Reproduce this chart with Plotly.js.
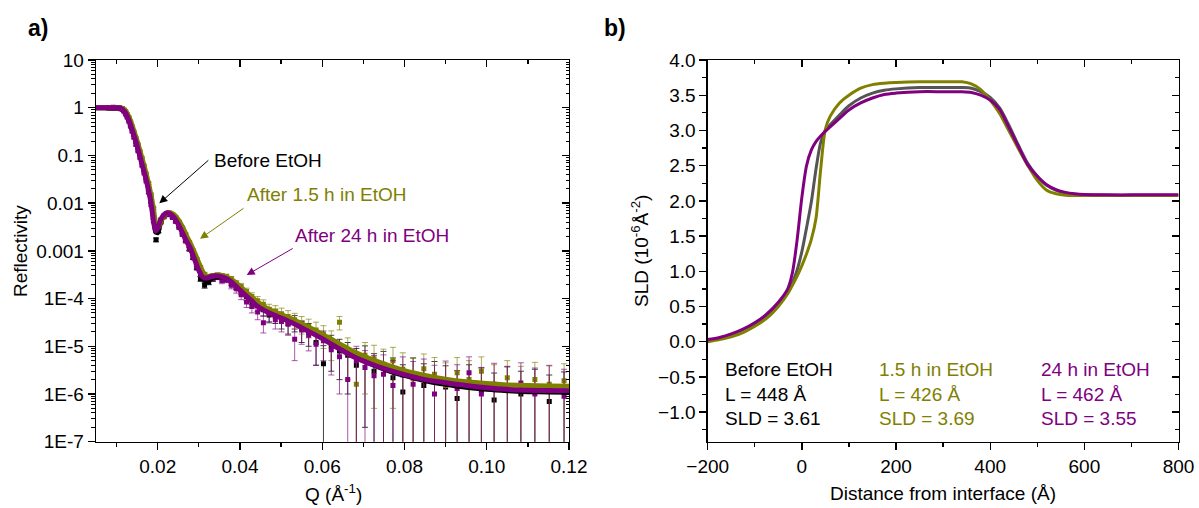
<!DOCTYPE html>
<html><head><meta charset="utf-8">
<script src="https://cdn.plot.ly/plotly-3.0.1.min.js"></script>
<style>html,body{margin:0;padding:0;background:#fff}#chart{width:1199px;height:508px}</style>
</head><body><div id="chart"></div>
<script>
// ---------- Panel a) reflectivity data ----------
const qData = [0.0080,0.0083,0.0086,0.0089,0.0092,0.0095,0.0098,0.0101,0.0104,0.0107,0.0110,0.0114,0.0118,0.0122,0.0126,0.0130,0.0134,0.0138,0.0142,0.0147,0.0152,0.0157,0.0162,0.0167,0.0172,0.0178,0.0184,0.0190,0.0196,0.0202,0.0208,0.0215,0.0222,0.0229,0.0236,0.0244,0.0252,0.0260,0.0268,0.0277,0.0286,0.0295,0.0304,0.0314,0.0324,0.0334,0.0345,0.0356,0.0367,0.0379,0.0391,0.0403,0.0416,0.0429,0.0443,0.0457,0.0471,0.0486,0.0501,0.0517,0.0533,0.0550,0.0567,0.0585,0.0603,0.0622,0.0642,0.0662,0.0683,0.0704,0.0726,0.0749,0.0772,0.0796,0.0821,0.0847,0.0873,0.0900,0.0928,0.0957,0.0987,0.1018,0.1050,0.1083,0.1117,0.1152,0.1188];

const rBefore = [1.00,0.99,1.01,1.00,0.98,1.01,0.99,1.00,0.98,0.98,0.96,0.94,0.87,0.78,0.67,0.57,0.46,0.36,0.28,0.20,0.15,0.105,0.074,0.050,0.034,0.020,0.011,0.0050,0.0017,0.0026,0.0040,0.0052,0.0058,0.0059,0.0052,0.0043,0.0033,0.0024,0.0017,0.0011,7.2e-4,4.4e-4,2.6e-4,1.9e-4,2.2e-4,2.6e-4,2.8e-4,2.8e-4,2.5e-4,2.2e-4,1.8e-4,1.45e-4,1.1e-4,8.2e-5,7.0e-5,5.8e-5,4.5e-5,4.4e-5,3.6e-5,3.0e-5,3.2e-5,2.3e-5,2.0e-5,1.2e-5,4.3e-6,1.0e-5,8.0e-6,6.5e-6,4.0e-6,5.2e-6,3.0e-6,3.8e-6,2.2e-6,1.1e-6,2.7e-6,1.5e-6,2.0e-6,1.4e-6,8.0e-7,1.6e-6,1.2e-6,7.5e-7,1.5e-6,1.0e-6,1.3e-6,7.0e-7,1.1e-6];
const eBefore = [0.03,0.03,0.03,0.03,0.03,0.03,0.03,0.03,0.03,0.03,0.03,0.03,0.03,0.03,0.02,0.02,0.015,0.012,0.01,0.008,0.006,0.004,0.003,0.002,0.0015,0.001,0.0006,0.0003,0.00015,0.0002,0.00025,0.0003,0.0003,0.0003,0.0003,0.00025,0.0002,0.00015,0.00012,0.00009,6e-5,4e-5,3e-5,2.5e-5,2.5e-5,3e-5,3e-5,3e-5,3e-5,3e-5,2.5e-5,2.5e-5,2e-5,1.8e-5,1.6e-5,1.5e-5,1.4e-5,1.4e-5,1.3e-5,1.2e-5,1.2e-5,1.1e-5,1e-5,8e-6,6e-6,7e-6,6e-6,5.5e-6,5e-6,5e-6,4e-6,4e-6,3.5e-6,3e-6,3e-6,2.8e-6,2.8e-6,2.5e-6,2.3e-6,2.5e-6,2.3e-6,2e-6,2.2e-6,2e-6,2e-6,1.8e-6,1.8e-6];

const r15h = [1.00,1.00,0.99,1.01,1.00,0.99,1.01,1.00,1.00,0.99,0.98,0.96,0.91,0.83,0.72,0.62,0.51,0.40,0.31,0.23,0.17,0.12,0.087,0.060,0.041,0.026,0.015,0.0078,0.0037,0.0032,0.0041,0.0052,0.0060,0.0062,0.0058,0.0050,0.0040,0.0030,0.0022,0.0015,0.0010,6.6e-4,4.4e-4,3.2e-4,2.9e-4,3.0e-4,3.1e-4,3.0e-4,2.9e-4,2.6e-4,2.1e-4,1.8e-4,1.4e-4,1.1e-4,9.0e-5,7.6e-5,6.0e-5,5.5e-5,4.8e-5,4.2e-5,3.6e-5,3.0e-5,2.6e-5,2.2e-5,1.8e-5,1.3e-5,3.2e-5,8.5e-6,1.6e-6,6.5e-6,5.5e-6,4.2e-6,5.0e-6,3.3e-6,2.1e-6,3.4e-6,2.6e-6,1.5e-6,2.8e-6,2.0e-6,3.0e-6,1.5e-6,2.2e-6,1.3e-6,2.0e-6,1.6e-6,1.9e-6];
const e15h = [0.03,0.03,0.03,0.03,0.03,0.03,0.03,0.03,0.03,0.03,0.03,0.03,0.03,0.03,0.025,0.02,0.017,0.014,0.011,0.009,0.007,0.005,0.004,0.003,0.002,0.0012,0.0008,0.0004,0.00025,0.0002,0.00025,0.0003,0.0003,0.0003,0.0003,0.0003,0.00025,0.0002,0.00015,0.00011,8e-5,5.5e-5,4.5e-5,3.5e-5,3.5e-5,3.5e-5,3.5e-5,3.5e-5,3.5e-5,3e-5,3e-5,2.8e-5,2.5e-5,2.2e-5,2e-5,1.8e-5,1.6e-5,1.6e-5,1.5e-5,1.4e-5,1.3e-5,1.2e-5,1.1e-5,1e-5,9e-6,8e-6,1e-5,6.5e-6,5e-6,5.5e-6,5e-6,4.5e-6,4.5e-6,4e-6,3.5e-6,3.5e-6,3.2e-6,3e-6,3e-6,3e-6,3e-6,2.6e-6,2.8e-6,2.5e-6,2.6e-6,2.4e-6,2.4e-6];

const r24h = [1.00,1.01,0.99,1.00,1.02,0.99,1.00,0.98,1.00,0.97,0.95,0.93,0.84,0.74,0.63,0.52,0.41,0.32,0.24,0.17,0.125,0.090,0.062,0.043,0.029,0.017,0.0092,0.0043,0.0027,0.0034,0.0045,0.0054,0.0058,0.0057,0.0050,0.0041,0.0031,0.0022,0.0016,0.0011,7.4e-4,4.8e-4,3.2e-4,2.6e-4,2.7e-4,2.6e-4,2.9e-4,2.4e-4,2.5e-4,1.9e-4,1.6e-4,1.2e-4,8.5e-5,6.8e-5,5.2e-5,3.1e-5,4.8e-5,3.6e-5,3.3e-5,2.9e-5,1.4e-5,2.2e-5,1.7e-5,1.1e-5,1.3e-5,8.5e-6,6.0e-6,2.0e-6,5.0e-6,3.6e-6,2.4e-6,2.6e-6,1.5e-6,2.5e-6,1.6e-6,2.2e-6,1.0e-6,1.9e-6,1.3e-6,2.8e-6,1.0e-6,1.6e-6,1.2e-6,1.7e-6,1.0e-6,1.4e-6,9.0e-7];
const e24h = [0.03,0.03,0.03,0.03,0.03,0.03,0.03,0.03,0.03,0.03,0.03,0.03,0.03,0.03,0.02,0.02,0.015,0.012,0.01,0.007,0.005,0.004,0.003,0.002,0.0014,0.0009,0.0005,0.0003,0.0002,0.0002,0.00025,0.0003,0.0003,0.0003,0.0003,0.00025,0.0002,0.00015,0.00012,0.00009,6e-5,4.5e-5,3.5e-5,3e-5,3e-5,3e-5,3.5e-5,3.5e-5,3.5e-5,3e-5,3e-5,2.5e-5,2e-5,1.8e-5,1.6e-5,1.2e-5,1.5e-5,1.3e-5,1.3e-5,1.2e-5,9e-6,1.1e-5,9e-6,7e-6,8e-6,6e-6,5e-6,4.5e-6,5e-6,4.5e-6,4e-6,4e-6,3.5e-6,3.5e-6,3.2e-6,3.2e-6,3e-6,3e-6,2.8e-6,3.2e-6,2.6e-6,2.8e-6,2.6e-6,2.8e-6,2.5e-6,2.5e-6,2.4e-6];

// fitted reflectivity curves
const fitQ = [0.005,0.008,0.010,0.011,0.012,0.013,0.014,0.015,0.016,0.017,0.018,0.0185,0.019,0.0195,0.020,0.0205,0.021,0.022,0.023,0.024,0.025,0.026,0.027,0.028,0.029,0.030,0.031,0.032,0.033,0.034,0.035,0.036,0.037,0.038,0.040,0.042,0.044,0.046,0.048,0.050,0.053,0.056,0.060,0.064,0.068,0.072,0.076,0.080,0.085,0.090,0.095,0.100,0.105,0.110,0.115,0.120];
const fitBefore = [1.0,1.0,1.0,0.98,0.85,0.59,0.33,0.18,0.086,0.041,0.017,0.010,0.0050,0.0025,0.0024,0.0034,0.0046,0.0060,0.0061,0.0053,0.0039,0.0026,0.0017,0.0011,7.0e-4,4.2e-4,2.6e-4,2.3e-4,2.6e-4,2.85e-4,2.9e-4,2.8e-4,2.6e-4,2.3e-4,1.6e-4,1.1e-4,7.6e-5,5.8e-5,4.8e-5,4.0e-5,3.1e-5,2.3e-5,1.5e-5,9.4e-6,6.0e-6,4.2e-6,3.1e-6,2.45e-6,1.9e-6,1.6e-6,1.38e-6,1.25e-6,1.17e-6,1.12e-6,1.1e-6,1.09e-6];
const fit15h = [1.0,1.0,1.0,0.99,0.88,0.64,0.37,0.20,0.10,0.048,0.021,0.013,0.0072,0.0038,0.0030,0.0036,0.0046,0.0060,0.0063,0.0057,0.0045,0.0032,0.0021,0.0014,9.0e-4,5.6e-4,3.6e-4,2.9e-4,2.9e-4,3.05e-4,3.1e-4,3.0e-4,2.8e-4,2.5e-4,1.8e-4,1.25e-4,8.8e-5,6.6e-5,5.4e-5,4.6e-5,3.6e-5,2.7e-5,1.8e-5,1.15e-5,7.5e-6,5.3e-6,4.0e-6,3.1e-6,2.45e-6,2.05e-6,1.8e-6,1.65e-6,1.55e-6,1.5e-6,1.47e-6,1.45e-6];
const fit24h = [1.0,1.0,1.0,0.97,0.82,0.55,0.30,0.16,0.075,0.036,0.015,0.0085,0.0040,0.0026,0.0030,0.0040,0.0050,0.0062,0.0060,0.0050,0.0036,0.0024,0.0016,0.0011,6.5e-4,3.9e-4,2.8e-4,2.7e-4,2.9e-4,3.0e-4,2.95e-4,2.8e-4,2.55e-4,2.2e-4,1.5e-4,1.05e-4,7.2e-5,5.6e-5,4.6e-5,3.9e-5,3.0e-5,2.2e-5,1.45e-5,9.0e-6,5.8e-6,4.2e-6,3.2e-6,2.55e-6,2.0e-6,1.72e-6,1.5e-6,1.35e-6,1.25e-6,1.2e-6,1.18e-6,1.17e-6];

const logTickVals = [10,1,0.1,0.01,0.001,1e-4,1e-5,1e-6,1e-7];
const logTickText = ['10','1','0.1','0.01','0.001','1E-4','1E-5','1E-6','1E-7'];
const arrowLabels = ['Before EtOH','After 1.5 h in EtOH','After 24 h in EtOH'];

// ---------- Panel b) SLD profiles ----------
const sldX = [-200,-175,-150,-125,-100,-75,-50,-30,-20,-10,0,10,20,30,40,50,60,80,100,125,150,175,200,250,300,340,360,380,400,420,440,460,480,500,520,540,560,580,600,650,700,800];
const sldBefore = [0.02,0.05,0.10,0.17,0.26,0.37,0.54,0.72,0.84,1.02,1.28,1.62,1.98,2.45,2.83,3.0,3.08,3.22,3.35,3.46,3.53,3.57,3.59,3.61,3.61,3.61,3.60,3.55,3.47,3.32,3.07,2.79,2.53,2.35,2.22,2.15,2.11,2.09,2.085,2.08,2.08,2.08];
const sld15h = [0.0,0.03,0.07,0.13,0.22,0.33,0.50,0.68,0.80,0.93,1.08,1.25,1.45,1.75,2.45,3.02,3.2,3.39,3.5,3.6,3.65,3.67,3.68,3.69,3.69,3.69,3.66,3.58,3.43,3.24,2.99,2.74,2.50,2.29,2.15,2.10,2.08,2.075,2.075,2.075,2.075,2.075];
const sld24h = [0.03,0.06,0.11,0.18,0.27,0.39,0.56,0.75,0.98,1.45,2.05,2.5,2.72,2.84,2.92,2.99,3.05,3.17,3.29,3.39,3.46,3.51,3.53,3.55,3.55,3.55,3.54,3.50,3.43,3.30,3.04,2.77,2.51,2.35,2.23,2.16,2.12,2.10,2.09,2.085,2.085,2.085];
const sldLabels = [
  ['Before EtOH','L = 448 Å','SLD = 3.61'],
  ['1.5 h in EtOH','L = 426 Å','SLD = 3.69'],
  ['24 h in EtOH','L = 462 Å','SLD = 3.55']
];

// ---------- styling ----------
const C_BLACK = '#000000', C_OLIVE = '#808000', C_PURPLE = '#800080', C_GREY = '#555555';
const FONT = 'Liberation Sans, Arial, sans-serif';
const FS = 19;

function dataTrace(y, err, col, barCol) {
  return {x: qData, y: y, type: 'scatter', mode: 'markers', xaxis: 'x', yaxis: 'y',
    marker: {symbol: 'square', size: 5, color: col},
    error_y: {type: 'data', array: err, visible: true, color: barCol, thickness: 1, width: 3},
    hoverinfo: 'skip', showlegend: false, cliponaxis: true};
}
function fitTrace(y, col) {
  return {x: fitQ, y: y, type: 'scatter', mode: 'lines', xaxis: 'x', yaxis: 'y',
    line: {color: col, width: 5, shape: 'spline', smoothing: 0.6}, hoverinfo: 'skip', showlegend: false};
}
function sldTrace(y, col) {
  return {x: sldX, y: y, type: 'scatter', mode: 'lines', xaxis: 'x2', yaxis: 'y2',
    line: {color: col, width: 3, shape: 'spline', smoothing: 0.8}, hoverinfo: 'skip', showlegend: false};
}

const traces = [
  dataTrace(rBefore, eBefore, C_BLACK, 'rgba(0,0,0,0.75)'),
  dataTrace(r15h, e15h, C_OLIVE, 'rgba(128,128,0,0.65)'),
  dataTrace(r24h, e24h, C_PURPLE, 'rgba(128,0,128,0.65)'),
  fitTrace(fitBefore, C_BLACK),
  fitTrace(fit15h, C_OLIVE),
  fitTrace(fit24h, C_PURPLE),
  sldTrace(sldBefore, C_GREY),
  sldTrace(sld15h, C_OLIVE),
  sldTrace(sld24h, C_PURPLE),
  {x: [null], y: [null], xaxis: 'x3', yaxis: 'y3', mode: 'markers', showlegend: false, hoverinfo: 'skip'},
  {x: [null], y: [null], xaxis: 'x4', yaxis: 'y4', mode: 'markers', showlegend: false, hoverinfo: 'skip'}
];

const W = 1199, H = 508;
const LX = [96 / W, 569 / W], RX = [707.7 / W, 1178.5 / W];
const YD = [1 - 441.7 / H, 1 - 60 / H];

const minorLog = [];
for (let k = -7; k <= 0; k++) for (let d = 2; d <= 9; d++) minorLog.push(d * Math.pow(10, k));

const tickFont = {family: FONT, size: FS, color: '#000'};
const baseAx = {showgrid: false, zeroline: false, showline: true, mirror: true, linecolor: '#000', linewidth: 1.3,
  ticks: 'outside', ticklen: 7, tickwidth: 1.3, tickcolor: '#000', tickfont: tickFont, fixedrange: true};
const innerAx = {showgrid: false, zeroline: false, showline: false, ticks: 'inside', ticklen: 7, tickwidth: 1.3,
  tickcolor: '#000', showticklabels: false, fixedrange: true};

const annotations = [];
// panel labels
annotations.push({xref: 'paper', yref: 'paper', x: 26 / W, y: 1 - 28 / H, xanchor: 'left', yanchor: 'middle',
  text: '<b>a)</b>', showarrow: false, font: {family: FONT, size: 23, color: '#000'}});
annotations.push({xref: 'paper', yref: 'paper', x: 602 / W, y: 1 - 28 / H, xanchor: 'left', yanchor: 'middle',
  text: '<b>b)</b>', showarrow: false, font: {family: FONT, size: 23, color: '#000'}});
// axis titles
annotations.push({xref: 'paper', yref: 'paper', x: 20 / W, y: 1 - 251 / H, textangle: -90, xanchor: 'center', yanchor: 'middle',
  text: 'Reflectivity', showarrow: false, font: {family: FONT, size: FS, color: '#000'}});
annotations.push({xref: 'paper', yref: 'paper', x: 333 / W, y: 1 - 493 / H, xanchor: 'center', yanchor: 'middle',
  text: 'Q (Å<sup>-1</sup>)', showarrow: false, font: {family: FONT, size: FS, color: '#000'}});
annotations.push({xref: 'paper', yref: 'paper', x: 640 / W, y: 1 - 251 / H, textangle: -90, xanchor: 'center', yanchor: 'middle',
  text: 'SLD (10<sup>-6</sup>Å<sup>-2</sup>)', showarrow: false, font: {family: FONT, size: FS, color: '#000'}});
annotations.push({xref: 'paper', yref: 'paper', x: 943 / W, y: 1 - 493 / H, xanchor: 'center', yanchor: 'middle',
  text: 'Distance from interface (Å)', showarrow: false, font: {family: FONT, size: FS, color: '#000'}});

// labelled arrows in panel a: [tip Q, tip R, tail dx px, tail dy px, yanchor, borderpad]
const arrowCols = [C_BLACK, C_OLIVE, C_PURPLE];
const arrowSpec = [
  [0.02039, 0.0099, 49, -43, 'middle', 5],
  [0.03029, 0.001787, 43.5, -30.5, 'bottom', 2],
  [0.04164, 3.12e-4, 46, -26.5, 'bottom', 1]
];
for (let i = 0; i < 3; i++) {
  const s = arrowSpec[i];
  annotations.push({xref: 'x', yref: 'y', x: s[0], y: Math.log10(s[1]), ax: s[2], ay: s[3],
    text: arrowLabels[i], showarrow: true, xanchor: 'left', yanchor: s[4], borderpad: s[5],
    arrowhead: 2, arrowsize: 1.6, arrowwidth: 1, arrowcolor: arrowCols[i], standoff: 0,
    font: {family: FONT, size: FS, color: arrowCols[i]}});
}
// SLD panel text
const colX = [-167, 159, 504];
const rowY = [-0.392, -0.743, -1.088];
const sldCols = [C_BLACK, C_OLIVE, C_PURPLE];
for (let c = 0; c < 3; c++) for (let r = 0; r < 3; r++) {
  annotations.push({xref: 'x2', yref: 'y2', x: colX[c], y: rowY[r], xanchor: 'left', yanchor: 'middle',
    text: sldLabels[c][r], showarrow: false, font: {family: FONT, size: FS, color: sldCols[c]}});
}

const layout = {
  width: W, height: H, margin: {l: 0, r: 0, t: 0, b: 0}, paper_bgcolor: '#fff', plot_bgcolor: '#fff',
  showlegend: false, hovermode: false, font: {family: FONT, size: FS, color: '#000'},
  xaxis: Object.assign({}, baseAx, {domain: LX, anchor: 'y', range: [0.005, 0.12], tick0: 0, dtick: 0.02, tickformat: '.2f',
    minor: {dtick: 0.01, tick0: 0, ticks: 'outside', ticklen: 4, tickwidth: 1.3, tickcolor: '#000'}}),
  yaxis: Object.assign({}, baseAx, {domain: YD, anchor: 'x', type: 'log', range: [-7, 1], tickmode: 'array',
    tickvals: logTickVals, ticktext: logTickText,
    minor: {tickmode: 'array', tickvals: minorLog, ticks: 'outside', ticklen: 3.5, tickwidth: 1, tickcolor: '#000'}}),
  xaxis3: Object.assign({}, innerAx, {overlaying: 'x', anchor: 'y', side: 'top', range: [0.005, 0.12], tick0: 0, dtick: 0.02,
    minor: {dtick: 0.01, tick0: 0, ticks: 'inside', ticklen: 4, tickwidth: 1.3, tickcolor: '#000'}}),
  yaxis3: Object.assign({}, innerAx, {overlaying: 'y', anchor: 'x', side: 'right', type: 'log', range: [-7, 1], tickmode: 'array',
    tickvals: logTickVals,
    minor: {tickmode: 'array', tickvals: minorLog, ticks: 'inside', ticklen: 3.5, tickwidth: 1, tickcolor: '#000'}}),
  xaxis2: Object.assign({}, baseAx, {domain: RX, anchor: 'y2', range: [-200, 800], tick0: 0, dtick: 200,
    minor: {dtick: 100, tick0: 0, ticks: 'outside', ticklen: 4, tickwidth: 1.3, tickcolor: '#000'}}),
  yaxis2: Object.assign({}, baseAx, {domain: YD, anchor: 'x2', range: [-1.42, 4.0], tick0: 0, dtick: 0.5, tickformat: '.1f',
    minor: {dtick: 0.25, tick0: 0, ticks: 'outside', ticklen: 4, tickwidth: 1.3, tickcolor: '#000'}}),
  xaxis4: Object.assign({}, innerAx, {overlaying: 'x2', anchor: 'y2', side: 'top', range: [-200, 800], tick0: 0, dtick: 200,
    minor: {dtick: 100, tick0: 0, ticks: 'inside', ticklen: 4, tickwidth: 1.3, tickcolor: '#000'}}),
  yaxis4: Object.assign({}, innerAx, {overlaying: 'y2', anchor: 'x2', side: 'right', range: [-1.42, 4.0], tick0: 0, dtick: 0.5,
    minor: {dtick: 0.25, tick0: 0, ticks: 'inside', ticklen: 4, tickwidth: 1.3, tickcolor: '#000'}}),
  annotations: annotations
};

Plotly.newPlot('chart', traces, layout, {staticPlot: true, displayModeBar: false});
</script>
</body></html>
